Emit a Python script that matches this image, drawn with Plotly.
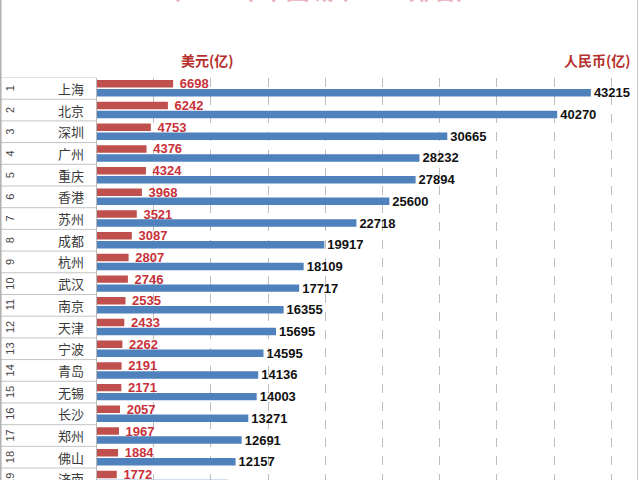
import plotly.graph_objects as go

ranks = [str(i) for i in range(1, 20)]
cities = ["上海", "北京", "深圳", "广州", "重庆", "香港", "苏州", "成都", "杭州", "武汉",
          "南京", "天津", "宁波", "青岛", "无锡", "长沙", "郑州", "佛山", "济南"]
usd = [6698, 6242, 4753, 4376, 4324, 3968, 3521, 3087, 2807, 2746,
       2535, 2433, 2262, 2191, 2171, 2057, 1967, 1884, 1772]
rmb = [43215, 40270, 30665, 28232, 27894, 25600, 22718, 19917, 18109, 17717,
       16355, 15695, 14595, 14136, 14003, 13271, 12691, 12157, 11432]

W, H = 640, 480
x0_px = 96.5
top_px = 77.5
rows = list(range(len(cities)))

RED = "#c0504d"
BLUE = "#4f81bd"
CJK = "Noto Sans CJK SC"

fig = go.Figure()
fig.add_trace(go.Bar(
    y=rows, x=usd, orientation="h", marker=dict(color=RED, line=dict(width=0)),
    text=["\u00a0" + str(v) for v in usd], textposition="outside",
    textfont=dict(color="#c8323a", size=13, family="Liberation Sans", weight="bold"),
    constraintext="none", cliponaxis=False, showlegend=False,
))
fig.add_trace(go.Bar(
    y=rows, x=rmb, orientation="h", marker=dict(color=BLUE, line=dict(width=0)),
    text=[str(v) for v in rmb], textposition="outside",
    textfont=dict(color="#111111", size=13, family="Liberation Sans", weight="bold"),
    constraintext="none", cliponaxis=False, showlegend=False,
))

xdom0 = x0_px / W
ydom1 = 1 - top_px / H
fig.update_layout(
    width=W, height=H,
    margin=dict(l=0, r=0, t=0, b=0),
    paper_bgcolor="white", plot_bgcolor="white",
    barmode="group", bargap=0.17, bargroupgap=0.17,
    xaxis=dict(domain=[xdom0, 1], range=[0, (W - x0_px) / 57.2 * 5000],
               showgrid=True, gridcolor="#bdbdbd", griddash="dash", gridwidth=1,
               dtick=5000, tick0=0, zeroline=False, showticklabels=False, ticks=""),
    yaxis=dict(domain=[0, ydom1], range=[18.05, -0.5], showgrid=False,
               zeroline=False, showticklabels=False, ticks="",
               showline=True, linecolor="#b8b8b8", linewidth=1),
)

shapes = []
for k in range(len(cities) + 1):
    shapes.append(dict(type="line", xref="paper", yref="y", x0=0, x1=xdom0,
                       y0=k - 0.5, y1=k - 0.5, line=dict(color="#c4c4c4", width=1)))
shapes.append(dict(type="line", xref="paper", yref="paper", x0=0.8 / W, x1=0.8 / W,
                   y0=0, y1=1, line=dict(color="#b0b0b0", width=1.5)))
shapes.append(dict(type="line", xref="paper", yref="paper", x0=637.5 / W, x1=637.5 / W,
                   y0=0, y1=1, line=dict(color="#c8c8c8", width=1)))
fig.update_layout(shapes=shapes)

ann = []
for r, rk, c in zip(rows, ranks, cities):
    ann.append(dict(x=10 / W, xref="paper", xanchor="center", y=r, yref="y", yanchor="middle",
                    text=rk, showarrow=False, textangle=-90,
                    font=dict(size=11, color="#444444", family="Liberation Sans")))
    ann.append(dict(x=71 / W, xref="paper", xanchor="center", y=r, yref="y", yanchor="middle",
                    text=c, showarrow=False,
                    font=dict(size=13, color="#3a3a3a", family=CJK)))
ann.append(dict(x=207 / W, xref="paper", xanchor="center", y=1 - 60 / H, yref="paper",
                yanchor="middle", text="美元(亿)", showarrow=False,
                font=dict(size=14, color="#b5302c", family=CJK, weight="bold")))
ann.append(dict(x=633 / W, xref="paper", xanchor="right", y=1 - 60 / H, yref="paper",
                yanchor="middle", text="人民币(亿)", showarrow=False,
                font=dict(size=14, color="#b5302c", family=CJK, weight="bold")))
ann.append(dict(x=318 / W, xref="paper", xanchor="center", y=1 - 8 / H, yref="paper",
                yanchor="bottom", text="（2021年中国城市GDP排名）", showarrow=False,
                font=dict(size=24, color="#eab0b7", family=CJK, weight="bold")))
fig.update_layout(annotations=ann)

fig.write_html("out.html")
